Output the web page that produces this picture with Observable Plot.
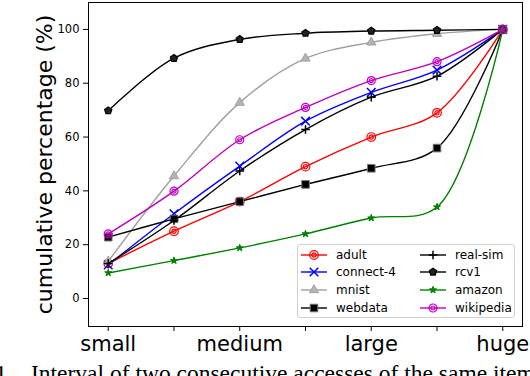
<!DOCTYPE html>
<html>
<head>
<meta charset="utf-8">
<script src="https://cdn.jsdelivr.net/npm/d3@7"></script>
<script src="https://cdn.jsdelivr.net/npm/@observablehq/plot@0.6"></script>
<style>
  body { margin: 0; background: #fff; }
  #wrap { position: relative; width: 530px; height: 376px; overflow: hidden; font-family: "DejaVu Sans", sans-serif; }
  #legend { position: absolute; left: 297px; top: 244px; width: 218px; height: 74px; box-sizing: border-box;
            border: 1px solid #d0d0d0; border-radius: 3px; background: rgba(255,255,255,0.85); font-size: 12px; color: #000; }
  .lg { position: absolute; height: 18px; display: flex; align-items: center; }
  .lg svg { display: block; }
  .lg span { margin-left: 9px; white-space: nowrap; }
  .cap { position: absolute; top: 362px; font-family: "Liberation Serif", "Times New Roman", serif;
         font-size: 23.5px; line-height: 1; white-space: nowrap; color: #000; }
</style>
</head>
<body>
<div id="wrap">
  <div id="chart"></div>
  <div id="legend"></div>
  <div class="cap" style="left:-5px">1.</div>
  <div class="cap" style="left:31px">Interval of two consecutive accesses of the same item.</div>
</div>
<script>
// ---- data ----
const categories = ["small", "", "medium", "", "large", "", "huge"];
const yTicks = [0, 20, 40, 60, 80, 100];
const seriesNames = ["adult", "connect-4", "mnist", "webdata", "real-sim", "rcv1", "amazon", "wikipedia"];
const adult     = [13, 25, 36, 49, 60, 69, 100];
const connect4  = [12.5, 31.5, 49.2, 65.9, 76.6, 84.9, 100];
const mnist     = [13.8, 45.5, 72.8, 89.2, 95.2, 98.4, 100];
const webdata   = [22.8, 29.6, 36, 42.4, 48.4, 55.9, 100];
const realsim   = [13, 29, 47.4, 62.8, 74.8, 82.6, 100];
const rcv1      = [69.8, 89.3, 96.3, 98.6, 99.4, 99.7, 100];
const amazon    = [9.5, 14.1, 18.8, 24, 29.9, 34, 100];
const wikipedia = [24, 39.9, 59, 71, 81, 88, 100];
const seriesValues = [adult, connect4, mnist, webdata, realsim, rcv1, amazon, wikipedia];

// ---- styles ----
const ringSymbol = {draw(ctx, size) {
  const r = Math.sqrt(size / Math.PI);
  ctx.moveTo(r, 0); ctx.arc(0, 0, r, 0, 2 * Math.PI);
  const r2 = r * 0.5;
  ctx.moveTo(r2, 0); ctx.arc(0, 0, r2, 0, 2 * Math.PI);
}};
const pentagonSymbol = {draw(ctx, size) {
  const r = Math.sqrt(size / Math.PI);
  for (let i = 0; i < 5; i++) {
    const a = -Math.PI / 2 + i * 2 * Math.PI / 5;
    const x = r * Math.cos(a), y = r * Math.sin(a);
    if (i === 0) ctx.moveTo(x, y); else ctx.lineTo(x, y);
  }
  ctx.closePath();
}};
const styles = {
  "adult":     {color: "#ff0000", symbol: ringSymbol,       fill: "none",    stroke: "#ff0000", r: 4.3, sw: 1.2},
  "connect-4": {color: "#0000ff", symbol: d3.symbolTimes,   fill: "none",    stroke: "#0000ff", r: 4.0, sw: 1.5},
  "mnist":     {color: "#a0a0a0", symbol: d3.symbolTriangle,fill: "#b4b4b4", stroke: "#a0a0a0", r: 3.4, sw: 1},
  "webdata":   {color: "#000000", symbol: d3.symbolSquare,  fill: "#000000", stroke: "#777777", r: 4.3, sw: 1},
  "real-sim":  {color: "#000000", symbol: d3.symbolPlus,    fill: "none",    stroke: "#000000", r: 2.9, sw: 1.5},
  "rcv1":      {color: "#000000", symbol: pentagonSymbol,   fill: "#222222", stroke: "#000000", r: 3.8, sw: 1.2},
  "amazon":    {color: "#008000", symbol: d3.symbolStar,    fill: "#008000", stroke: "#008000", r: 2.2, sw: 1},
  "wikipedia": {color: "#bf00bf", symbol: ringSymbol,       fill: "none",    stroke: "#bf00bf", r: 4.0, sw: 1.2}
};

const data = [];
seriesNames.forEach((name, si) => {
  seriesValues[si].forEach((v, i) => data.push({series: name, x: i, y: v}));
});

const H = 376;
const marks = [];
seriesNames.forEach(name => {
  const s = styles[name];
  const d = data.filter(p => p.series === name);
  marks.push(Plot.line(d, {x: "x", y: "y", stroke: s.color, strokeWidth: 1.4, curve: "catmull-rom"}));
  marks.push(Plot.dot(d, {x: "x", y: "y", symbol: s.symbol, r: s.r, fill: s.fill, stroke: s.stroke, strokeWidth: s.sw}));
});

const chart = Plot.plot({
  width: 530,
  height: H,
  marginLeft: 88,
  marginRight: 8,
  marginTop: 2,
  marginBottom: H - 326,
  style: {fontFamily: "DejaVu Sans, sans-serif", color: "#000", background: "transparent", overflow: "visible"},
  x: {domain: [-0.3, 6.3]},
  y: {domain: [-10.4, 110]},
  marks: [
    Plot.axisY({ticks: yTicks, tickSize: 5, tickPadding: 4, fontSize: 11.5, label: null, tickFormat: d => String(d)}),
    Plot.axisX({ticks: d3.range(categories.length), tickSize: 5, tickPadding: 5, fontSize: 21, label: null,
                tickFormat: i => categories[i]}),
    Plot.text(["cumulative percentage (%)"], {frameAnchor: "left", rotate: -90, dx: -44, fontSize: 22,
                lineAnchor: "middle", textAnchor: "middle"}),
    ...marks,
    Plot.frame({stroke: "#000", strokeWidth: 1})
  ]
});
document.getElementById("chart").appendChild(chart);

// ---- legend ----
const legend = document.getElementById("legend");
seriesNames.forEach((name, i) => {
  const s = styles[name];
  const col = Math.floor(i / 4), row = i % 4;
  const item = document.createElement("div");
  item.className = "lg";
  item.style.left = (col === 0 ? 3 : 122) + "px";
  item.style.top = (row * 17.7 + 0.5) + "px";
  const svg = d3.create("svg").attr("width", 26).attr("height", 18);
  svg.append("line").attr("x1", 0).attr("x2", 26).attr("y1", 9).attr("y2", 9)
     .attr("stroke", s.color).attr("stroke-width", 1.4);
  svg.append("path").attr("transform", "translate(13,9)")
     .attr("d", d3.symbol(s.symbol, Math.PI * s.r * s.r)())
     .attr("fill", s.fill).attr("stroke", s.stroke).attr("stroke-width", s.sw);
  item.appendChild(svg.node());
  const label = document.createElement("span");
  label.textContent = name;
  item.appendChild(label);
  legend.appendChild(item);
});
</script>
</body>
</html>
